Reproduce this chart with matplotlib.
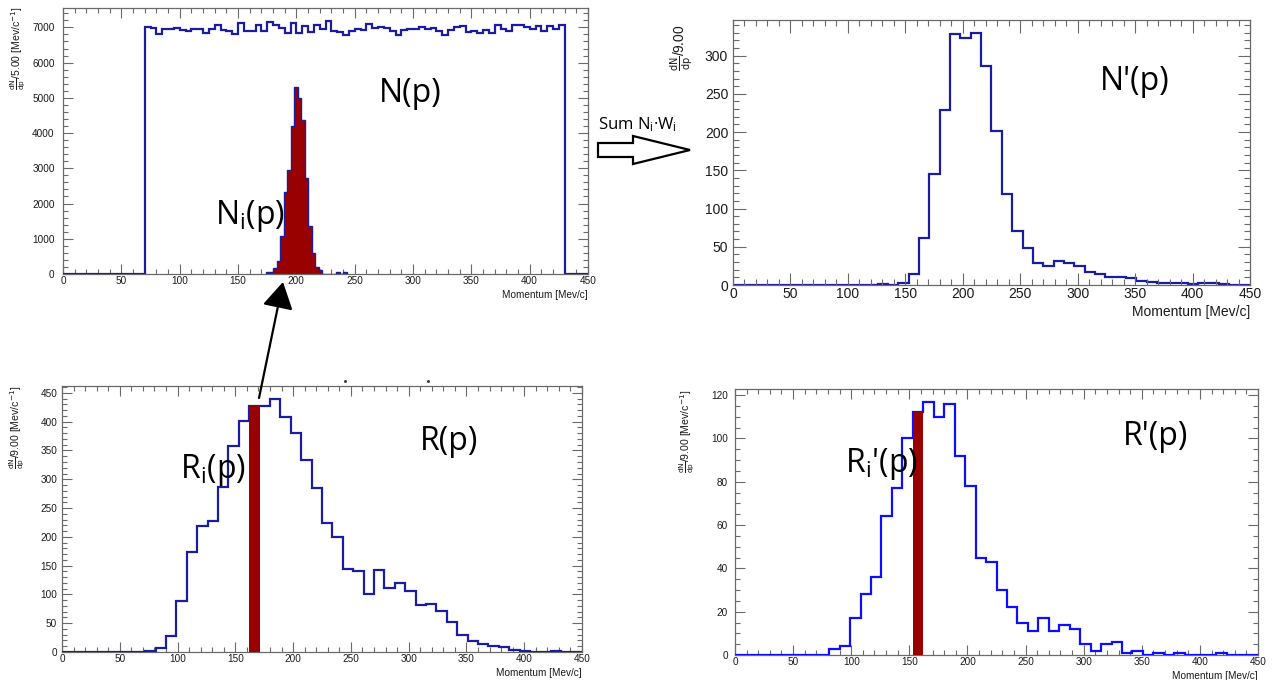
import numpy as np
import matplotlib
matplotlib.use('Agg')
import matplotlib.pyplot as plt
from matplotlib.patches import Polygon
from matplotlib.ticker import MultipleLocator
from matplotlib.lines import Line2D

W, H = 1278, 680
plt.rcParams['font.family'] = ['Liberation Sans', 'DejaVu Sans']
plt.rcParams['mathtext.fontset'] = 'custom'
plt.rcParams['mathtext.rm'] = 'Open Sans'
plt.rcParams['mathtext.it'] = 'Open Sans:italic'

# ---------------- data ----------------
# N(p): flat generated spectrum, 5 MeV/c bins starting at 70 MeV/c
N_start, N_bin = 70, 5
N_counts = [7000, 6990, 6810, 6940, 6960, 6980, 6920, 6890, 6950, 6940,
            6850, 6960, 7080, 6920, 6900, 6810, 7110, 6900, 6890, 7060,
            6900, 7150, 7060, 6980, 6830, 7130, 6850, 7040, 6870, 7080,
            6940, 7190, 6890, 6870, 6790, 6900, 6940, 6920, 7090, 6980,
            7000, 6980, 6890, 6770, 6920, 6960, 6960, 7020, 6960, 6980,
            6900, 6790, 6920, 7000, 7040, 6870, 6900, 6830, 6920, 6830,
            7060, 6940, 6900, 7060, 7060, 7000, 6940, 7040, 6900, 7040,
            6960, 7080]
# Ni(p): response to one slice, 3 MeV/c bins starting at 174 MeV/c
Ni_start, Ni_bin = 174, 3
Ni_counts = [60, 70, 160, 380, 1070, 2340, 2950, 4200, 5300, 5000, 4380,
             2730, 1350, 590, 210, 100, 0, 0, 0, 0, 60, 0, 60]

# 9 MeV/c bins from 0 to 450 MeV/c
bin9 = 9
Nprime = [0, 0, 0, 0, 0, 0, 0, 0, 0, 0, 0, 0, 0, 0, 1, 0, 3, 15, 62, 145,
          229, 328, 323, 330, 287, 202, 119, 70, 48, 29, 25, 31, 29, 25, 17,
          15, 11, 10, 9, 5, 3.5, 3, 3, 2, 1.5, 2, 2, 1, 0, 0]
R = [0, 0, 0, 0, 0, 0, 0, 0, 1, 7, 28, 88, 173, 218, 227, 286, 357, 402,
     427, 427, 440, 408, 380, 334, 284, 224, 200, 144, 140, 100, 142, 112,
     120, 106, 82, 83, 72, 52, 30, 19, 14, 11, 9, 3.5, 1, 0, 0, 1, 0, 0]
Rprime = [0, 0, 0, 0, 0, 0, 0, 0, 0, 3, 4, 17, 28, 36, 64, 77, 100, 112, 117,
          110, 116, 92, 78, 45, 43, 30, 22, 15, 11, 17, 11, 14, 12, 5, 2, 5,
          6, 1, 2, 0, 1, 0, 1, 0, 0, 0, 1, 0, 0, 0]
R_sel = 18       # highlighted bin in R(p)
Rprime_sel = 17  # highlighted bin in R'(p)

x_label = 'Momentum [Mev/c]'

# ---------------- styles ----------------
DARKBLUE = '#1c1ca0'
BLUE = '#0d0dff'
DARKRED = '#990000'
FRAME = '#6a6a6a'


def fig_rect(left, top, right, bottom):
    return [left / W, 1 - bottom / H, (right - left) / W, (bottom - top) / H]


def style(ax, ymax, ymaj, ymin, fs, ypad, ticklen):
    ax.set_xlim(0, 450)
    ax.set_ylim(0, ymax)
    ax.xaxis.set_major_locator(MultipleLocator(50))
    ax.xaxis.set_minor_locator(MultipleLocator(10))
    ax.yaxis.set_major_locator(MultipleLocator(ymaj))
    ax.yaxis.set_minor_locator(MultipleLocator(ymin))
    ax.tick_params(which='both', direction='in', top=True, right=True,
                   color=FRAME, labelcolor='#1a1a1a', labelsize=fs, width=0.8)
    ax.tick_params(which='major', length=ticklen)
    ax.tick_params(which='minor', length=ticklen * 0.5)
    ax.tick_params(axis='x', pad=1.5)
    ax.tick_params(axis='y', pad=ypad)
    for s in ax.spines.values():
        s.set_color(FRAME)
        s.set_linewidth(0.9)


fig = plt.figure(figsize=(W / 100, H / 100), dpi=100)

# ---- Panel 1: N(p) and Ni(p)
ax1 = fig.add_axes(fig_rect(63, 8, 588, 274))
N_edges = N_start + N_bin * np.arange(len(N_counts) + 1)
Ni_edges = Ni_start + Ni_bin * np.arange(len(Ni_counts) + 1)
ax1.stairs(Ni_counts, Ni_edges, fill=True, color=DARKRED, zorder=2)
ax1.stairs(Ni_counts, Ni_edges, color=DARKBLUE, lw=1.0, zorder=3)
full_edges = np.concatenate(([0], N_edges, [450]))
full_counts = np.concatenate(([0], N_counts, [0]))
ax1.stairs(full_counts, full_edges, color=DARKBLUE, lw=1.6, zorder=4)
style(ax1, 1.05 * max(N_counts), 1000, 200, 7.2, 6, 7)
ax1.text(1.0, -0.06, x_label, transform=ax1.transAxes, ha='right', va='top',
         fontsize=7.2, color='#1a1a1a')
ax1.text(298, 5120, 'N(p)', fontsize=23, family='Open Sans', ha='center',
         va='center', zorder=6)
ax1.text(160, 1660, r'N$_\mathrm{i}$(p)', fontsize=23, family='Open Sans',
         ha='center', va='center', zorder=6)
fig.text(18 / W, 1 - 6 / H, r'$\frac{\mathrm{dN}}{\mathrm{dp}}$/5.00 [Mev/c$^{-1}$]',
         rotation=90, ha='center', va='top', fontsize=7.6,
         math_fontfamily='dejavusans', color='#1a1a1a')

# ---- Panel 2: N'(p)
ax2 = fig.add_axes(fig_rect(733, 20, 1250, 285))
edges9 = bin9 * np.arange(len(Nprime) + 1)
ax2.stairs(Nprime, edges9, color=DARKBLUE, lw=1.6)
style(ax2, 1.05 * max(Nprime), 50, 10, 10, 3.5, 9)
ax2.text(1.0, -0.075, x_label, transform=ax2.transAxes, ha='right', va='top',
         fontsize=10, color='#1a1a1a')
ax2.text(350, 266, "N'(p)", fontsize=23, family='Open Sans', ha='center',
         va='center')
fig.text(682 / W, 1 - 25 / H, r'$\frac{\mathrm{dN}}{\mathrm{dp}}$/9.00',
         rotation=90, ha='center', va='top', fontsize=10,
         math_fontfamily='dejavusans', color='#1a1a1a')

# ---- Panel 3: R(p)
ax3 = fig.add_axes(fig_rect(62, 386, 582, 652))
ax3.stairs(R, edges9, color=DARKBLUE, lw=1.6, zorder=3)
ax3.bar(edges9[R_sel], R[R_sel], width=bin9, align='edge', color=DARKRED,
        zorder=4, linewidth=0)
style(ax3, 1.05 * max(R), 50, 10, 7.2, 3.5, 7)
ax3.text(1.0, -0.06, x_label, transform=ax3.transAxes, ha='right', va='top',
         fontsize=7.2, color='#1a1a1a')
ax3.text(335, 365, 'R(p)', fontsize=23, family='Open Sans', ha='center',
         va='center', zorder=6)
ax3.text(131, 316, r'R$_\mathrm{i}$(p)', fontsize=23, family='Open Sans',
         ha='center', va='center', zorder=6)
fig.text(17 / W, 1 - 386 / H, r'$\frac{\mathrm{dN}}{\mathrm{dp}}$/9.00 [Mev/c$^{-1}$]',
         rotation=90, ha='center', va='top', fontsize=7.6,
         math_fontfamily='dejavusans', color='#1a1a1a')

# ---- Panel 4: R'(p)
ax4 = fig.add_axes(fig_rect(735, 389, 1258, 655))
ax4.stairs(Rprime, edges9, color=BLUE, lw=1.6, zorder=3)
ax4.bar(edges9[Rprime_sel], Rprime[Rprime_sel], width=bin9, align='edge',
        color=DARKRED, zorder=4, linewidth=0)
style(ax4, 1.05 * max(Rprime), 20, 5, 7.2, 5, 7)
ax4.text(1.0, -0.06, x_label, transform=ax4.transAxes, ha='right', va='top',
         fontsize=7.2, color='#1a1a1a')
ax4.text(362, 101, "R'(p)", fontsize=23, family='Open Sans', ha='center',
         va='center', zorder=6)
ax4.text(126, 88, r"R$_\mathrm{i}$'(p)", fontsize=23, family='Open Sans',
         ha='center', va='center', zorder=6)
fig.text(687 / W, 1 - 390 / H, r'$\frac{\mathrm{dN}}{\mathrm{dp}}$/9.00 [Mev/c$^{-1}$]',
         rotation=90, ha='center', va='top', fontsize=7.6,
         math_fontfamily='dejavusans', color='#1a1a1a')

# ---- annotation arrow from Ri(p) slice to Ni(p)
fig.add_artist(plt.Annotation(
    '', xy=(283 / W, 1 - 282 / H), xytext=(259 / W, 1 - 398 / H),
    xycoords='figure fraction', textcoords='figure fraction',
    arrowprops=dict(arrowstyle='-|>,head_length=0.65,head_width=0.38',
                    color='black', lw=1.6, mutation_scale=25,
                    shrinkA=0, shrinkB=0)))

# ---- "Sum Ni·Wi" block arrow
pts = [(598, 143), (633, 143), (633, 136), (690, 150), (633, 164), (633, 157),
       (598, 157)]
poly = Polygon([(x / W, 1 - y / H) for x, y in pts], closed=True,
               transform=fig.transFigure, facecolor='white', edgecolor='black',
               lw=1.6)
fig.add_artist(poly)
fig.text(598 / W, 1 - 125 / H, r'Sum N$_\mathrm{i}$·W$_\mathrm{i}$',
         fontsize=12, family='Open Sans', ha='left', va='center')

# small specks
for x, y in [(345, 381), (428, 381)]:
    fig.add_artist(Line2D([x / W], [1 - y / H], marker='o', markersize=1.2,
                          color='#444444', transform=fig.transFigure))

fig.savefig('out.png', dpi=100)
